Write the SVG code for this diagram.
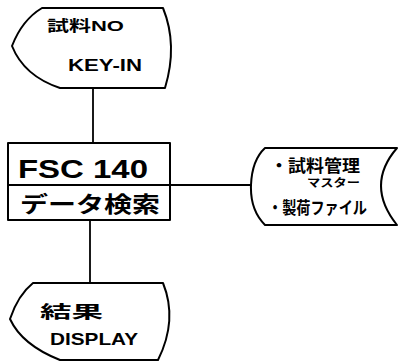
<svg xmlns="http://www.w3.org/2000/svg" width="398" height="363" viewBox="0 0 398 363">
<style>
.s{fill:#fff;stroke:#000;stroke-width:2;stroke-linejoin:round}
.c{fill:none;stroke:#000;stroke-width:1.8}
text{font-family:"Liberation Sans","Noto Sans CJK JP",sans-serif;fill:#000;font-weight:bold}
</style>
<rect width="398" height="363" fill="#fff"/>
<g id="connectors">
<line class="c" x1="93" y1="88" x2="93" y2="143"/>
<line class="c" x1="170" y1="185" x2="251" y2="185"/>
<line class="c" x1="90" y1="220" x2="90" y2="283"/>
</g>
<g id="input">
<path class="s" d="M42,8 L163,8 Q178,45 165,88 L60,88 Q24,76 12,46 Q22,20 42,8 Z"/>
<text x="47" y="31" font-size="15" textLength="77" lengthAdjust="spacingAndGlyphs">試料NO</text>
<text x="68" y="71" font-size="17" textLength="74" lengthAdjust="spacingAndGlyphs">KEY-IN</text>
</g>
<g id="process">
<rect class="s" x="8" y="143" width="162" height="77"/>
<line class="c" x1="8" y1="185" x2="170" y2="185"/>
<text x="18" y="178" font-size="25" textLength="130" lengthAdjust="spacingAndGlyphs" font-weight="normal">FSC 140</text>
<text x="20" y="212" font-size="22" textLength="140" lengthAdjust="spacingAndGlyphs" font-weight="normal">データ検索</text>
</g>
<g id="storage">
<path class="s" d="M265,148 L397,148 Q365,185 397,225 L265,225 Q250,210 251,185 Q252,160 265,148 Z"/>
<text x="270" y="172" font-size="17" textLength="90" lengthAdjust="spacingAndGlyphs">・試料管理</text>
<text x="307" y="187" font-size="11" textLength="53" lengthAdjust="spacingAndGlyphs">マスター</text>
<text x="268" y="214" font-size="17" textLength="99" lengthAdjust="spacingAndGlyphs">・製荷ファイル</text>
</g>
<g id="display">
<path class="s" d="M33,283 L163,283 Q178,320 158,360 L60,360 Q22,345 10,319 Q18,295 33,283 Z"/>
<text x="40" y="318" font-size="17" textLength="63" lengthAdjust="spacingAndGlyphs">結果</text>
<text x="50" y="345" font-size="17" textLength="88" lengthAdjust="spacingAndGlyphs">DISPLAY</text>
</g>
</svg>
